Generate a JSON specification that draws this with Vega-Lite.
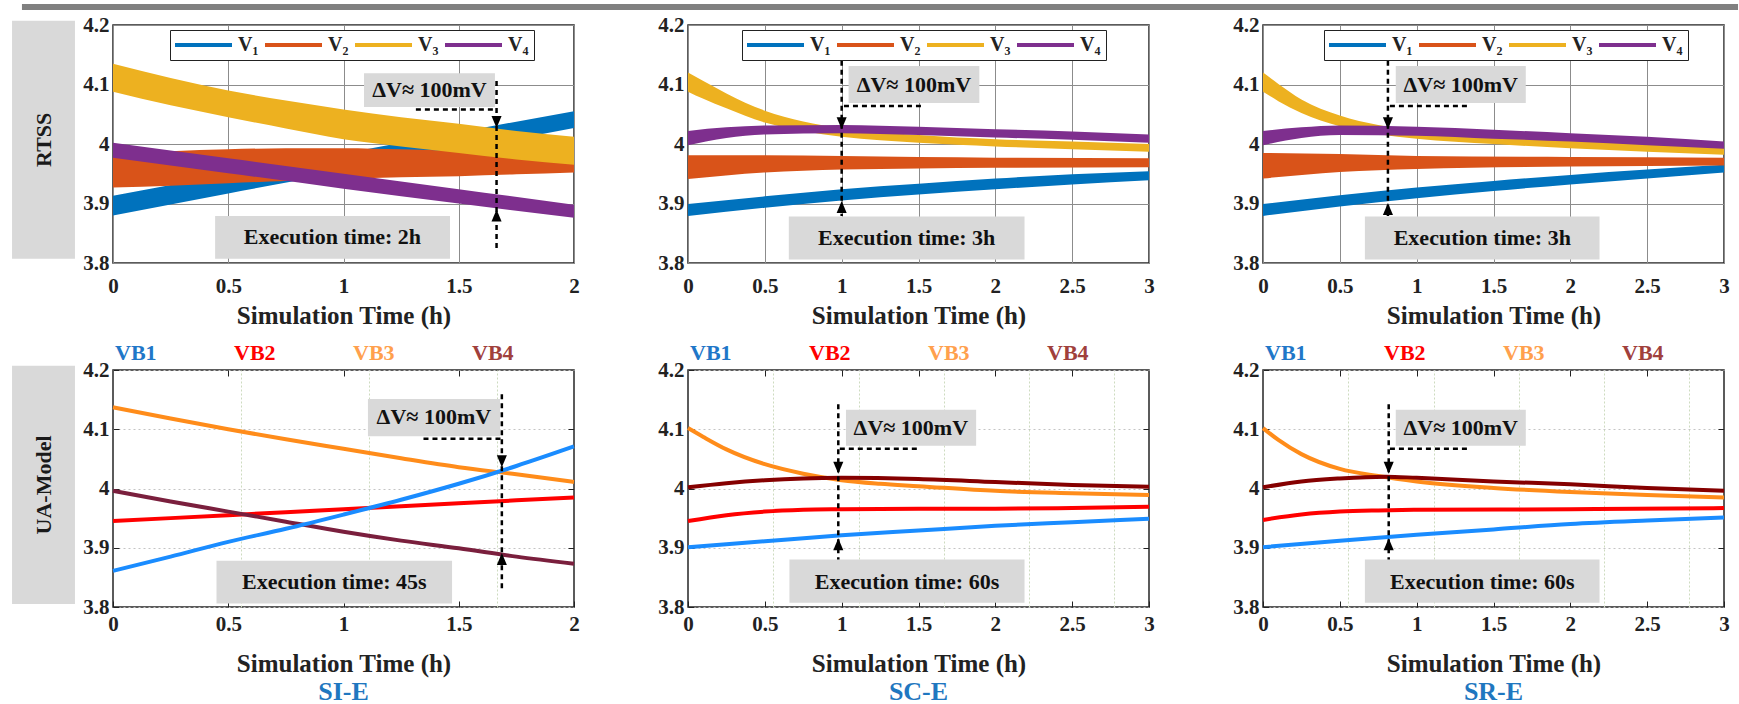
{
"$schema": "https://vega.github.io/schema/vega-lite/v6.json",
"background": "white",
"padding": {"left": 11, "top": 3, "right": 0, "bottom": 0},
"columns": 3,
"spacing": {"row": 107, "column": 114},
"bounds": "flush",
"resolve": {"scale": {"color": "independent"}, "legend": {"color": "independent"}},
"datasets": {
"b1": [
{"s":"V₁","t":0,"lo":3.880,"hi":3.913},{"s":"V₁","t":0.5,"lo":3.917,"hi":3.949},{"s":"V₁","t":1,"lo":3.953,"hi":3.984},{"s":"V₁","t":1.5,"lo":3.990,"hi":4.020},{"s":"V₁","t":2,"lo":4.027,"hi":4.055},
{"s":"V₂","t":0,"lo":3.927,"hi":3.984},{"s":"V₂","t":0.25,"lo":3.930,"hi":3.988},{"s":"V₂","t":0.5,"lo":3.934,"hi":3.991},{"s":"V₂","t":0.75,"lo":3.938,"hi":3.993},{"s":"V₂","t":1,"lo":3.941,"hi":3.993},{"s":"V₂","t":1.25,"lo":3.944,"hi":3.991},{"s":"V₂","t":1.5,"lo":3.946,"hi":3.988},{"s":"V₂","t":1.75,"lo":3.949,"hi":3.983},{"s":"V₂","t":2,"lo":3.952,"hi":3.977},
{"s":"V₃","t":0,"lo":4.088,"hi":4.135},{"s":"V₃","t":0.25,"lo":4.065,"hi":4.111},{"s":"V₃","t":0.5,"lo":4.045,"hi":4.090},{"s":"V₃","t":0.75,"lo":4.026,"hi":4.073},{"s":"V₃","t":1,"lo":4.008,"hi":4.058},{"s":"V₃","t":1.25,"lo":3.996,"hi":4.045},{"s":"V₃","t":1.5,"lo":3.985,"hi":4.034},{"s":"V₃","t":1.75,"lo":3.974,"hi":4.022},{"s":"V₃","t":2,"lo":3.965,"hi":4.012},
{"s":"V₄","t":0,"lo":3.977,"hi":4.002},{"s":"V₄","t":0.5,"lo":3.951,"hi":3.976},{"s":"V₄","t":1,"lo":3.925,"hi":3.950},{"s":"V₄","t":1.5,"lo":3.900,"hi":3.924},{"s":"V₄","t":2,"lo":3.876,"hi":3.898}
],
"b2": [
{"s":"V₁","t":0,"lo":3.879,"hi":3.899},{"s":"V₁","t":0.5,"lo":3.893,"hi":3.912},{"s":"V₁","t":1,"lo":3.905,"hi":3.924},{"s":"V₁","t":1.5,"lo":3.915,"hi":3.933},{"s":"V₁","t":2,"lo":3.924,"hi":3.942},{"s":"V₁","t":2.5,"lo":3.932,"hi":3.949},{"s":"V₁","t":3,"lo":3.939,"hi":3.954},
{"s":"V₂","t":0,"lo":3.941,"hi":3.981},{"s":"V₂","t":0.5,"lo":3.952,"hi":3.981},{"s":"V₂","t":1,"lo":3.957,"hi":3.980},{"s":"V₂","t":1.5,"lo":3.959,"hi":3.978},{"s":"V₂","t":2,"lo":3.960,"hi":3.977},{"s":"V₂","t":3,"lo":3.961,"hi":3.976},
{"s":"V₃","t":0,"lo":4.088,"hi":4.120},{"s":"V₃","t":0.1,"lo":4.076,"hi":4.106},{"s":"V₃","t":0.25,"lo":4.060,"hi":4.085},{"s":"V₃","t":0.5,"lo":4.036,"hi":4.056},{"s":"V₃","t":0.75,"lo":4.022,"hi":4.038},{"s":"V₃","t":1,"lo":4.012,"hi":4.027},{"s":"V₃","t":1.5,"lo":4.002,"hi":4.015},{"s":"V₃","t":2,"lo":3.996,"hi":4.008},{"s":"V₃","t":2.5,"lo":3.991,"hi":4.004},{"s":"V₃","t":3,"lo":3.987,"hi":4.000},
{"s":"V₄","t":0,"lo":3.998,"hi":4.022},{"s":"V₄","t":0.25,"lo":4.010,"hi":4.028},{"s":"V₄","t":0.5,"lo":4.016,"hi":4.031},{"s":"V₄","t":1,"lo":4.018,"hi":4.032},{"s":"V₄","t":1.5,"lo":4.015,"hi":4.029},{"s":"V₄","t":2,"lo":4.011,"hi":4.025},{"s":"V₄","t":2.5,"lo":4.007,"hi":4.021},{"s":"V₄","t":3,"lo":4.002,"hi":4.016}
],
"b3": [
{"s":"V₁","t":0,"lo":3.879,"hi":3.899},{"s":"V₁","t":0.5,"lo":3.895,"hi":3.914},{"s":"V₁","t":1,"lo":3.909,"hi":3.927},{"s":"V₁","t":1.5,"lo":3.921,"hi":3.938},{"s":"V₁","t":2,"lo":3.932,"hi":3.948},{"s":"V₁","t":2.5,"lo":3.942,"hi":3.957},{"s":"V₁","t":3,"lo":3.952,"hi":3.965},
{"s":"V₂","t":0,"lo":3.942,"hi":3.985},{"s":"V₂","t":0.5,"lo":3.953,"hi":3.983},{"s":"V₂","t":1,"lo":3.958,"hi":3.980},{"s":"V₂","t":2,"lo":3.962,"hi":3.978},{"s":"V₂","t":3,"lo":3.964,"hi":3.977},
{"s":"V₃","t":0,"lo":4.088,"hi":4.120},{"s":"V₃","t":0.1,"lo":4.072,"hi":4.101},{"s":"V₃","t":0.25,"lo":4.052,"hi":4.075},{"s":"V₃","t":0.5,"lo":4.030,"hi":4.048},{"s":"V₃","t":0.75,"lo":4.017,"hi":4.032},{"s":"V₃","t":1,"lo":4.009,"hi":4.023},{"s":"V₃","t":1.5,"lo":4.000,"hi":4.013},{"s":"V₃","t":2,"lo":3.993,"hi":4.006},{"s":"V₃","t":2.5,"lo":3.987,"hi":4.000},{"s":"V₃","t":3,"lo":3.982,"hi":3.994},
{"s":"V₄","t":0,"lo":3.998,"hi":4.022},{"s":"V₄","t":0.25,"lo":4.010,"hi":4.028},{"s":"V₄","t":0.5,"lo":4.015,"hi":4.031},{"s":"V₄","t":1,"lo":4.014,"hi":4.029},{"s":"V₄","t":1.5,"lo":4.009,"hi":4.024},{"s":"V₄","t":2,"lo":4.004,"hi":4.018},{"s":"V₄","t":2.5,"lo":3.998,"hi":4.012},{"s":"V₄","t":3,"lo":3.992,"hi":4.004}
],
"u1": [
{"s":"VB3","t":0,"v":4.137},{"s":"VB3","t":0.25,"v":4.118},{"s":"VB3","t":0.5,"v":4.100},{"s":"VB3","t":0.75,"v":4.083},{"s":"VB3","t":1,"v":4.067},{"s":"VB3","t":1.25,"v":4.051},{"s":"VB3","t":1.5,"v":4.036},{"s":"VB3","t":1.75,"v":4.024},{"s":"VB3","t":2,"v":4.011},
{"s":"VB2","t":0,"v":3.945},{"s":"VB2","t":0.5,"v":3.955},{"s":"VB2","t":1,"v":3.965},{"s":"VB2","t":1.5,"v":3.975},{"s":"VB2","t":2,"v":3.985},
{"s":"VB4","t":0,"v":3.996},{"s":"VB4","t":0.25,"v":3.978},{"s":"VB4","t":0.5,"v":3.961},{"s":"VB4","t":0.75,"v":3.944},{"s":"VB4","t":1,"v":3.927},{"s":"VB4","t":1.25,"v":3.912},{"s":"VB4","t":1.5,"v":3.899},{"s":"VB4","t":1.75,"v":3.885},{"s":"VB4","t":2,"v":3.873},
{"s":"VB1","t":0,"v":3.861},{"s":"VB1","t":0.25,"v":3.885},{"s":"VB1","t":0.5,"v":3.910},{"s":"VB1","t":0.75,"v":3.932},{"s":"VB1","t":1,"v":3.956},{"s":"VB1","t":1.25,"v":3.981},{"s":"VB1","t":1.5,"v":4.008},{"s":"VB1","t":1.75,"v":4.038},{"s":"VB1","t":2,"v":4.071}
],
"u2": [
{"s":"VB3","t":0,"v":4.102},{"s":"VB3","t":0.1,"v":4.087},{"s":"VB3","t":0.25,"v":4.066},{"s":"VB3","t":0.5,"v":4.041},{"s":"VB3","t":0.75,"v":4.025},{"s":"VB3","t":1,"v":4.014},{"s":"VB3","t":1.25,"v":4.008},{"s":"VB3","t":1.5,"v":4.004},{"s":"VB3","t":2,"v":3.996},{"s":"VB3","t":2.5,"v":3.992},{"s":"VB3","t":3,"v":3.989},
{"s":"VB2","t":0,"v":3.945},{"s":"VB2","t":0.25,"v":3.955},{"s":"VB2","t":0.5,"v":3.961},{"s":"VB2","t":0.75,"v":3.964},{"s":"VB2","t":1,"v":3.965},{"s":"VB2","t":1.5,"v":3.966},{"s":"VB2","t":2,"v":3.966},{"s":"VB2","t":2.5,"v":3.967},{"s":"VB2","t":3,"v":3.969},
{"s":"VB4","t":0,"v":4.002},{"s":"VB4","t":0.25,"v":4.009},{"s":"VB4","t":0.5,"v":4.014},{"s":"VB4","t":0.75,"v":4.017},{"s":"VB4","t":1,"v":4.018},{"s":"VB4","t":1.5,"v":4.016},{"s":"VB4","t":2,"v":4.011},{"s":"VB4","t":2.5,"v":4.006},{"s":"VB4","t":3,"v":4.003},
{"s":"VB1","t":0,"v":3.901},{"s":"VB1","t":0.5,"v":3.911},{"s":"VB1","t":1,"v":3.921},{"s":"VB1","t":1.5,"v":3.929},{"s":"VB1","t":2,"v":3.937},{"s":"VB1","t":2.5,"v":3.943},{"s":"VB1","t":3,"v":3.949}
],
"u3": [
{"s":"VB3","t":0,"v":4.102},{"s":"VB3","t":0.1,"v":4.082},{"s":"VB3","t":0.25,"v":4.058},{"s":"VB3","t":0.5,"v":4.033},{"s":"VB3","t":0.75,"v":4.021},{"s":"VB3","t":1,"v":4.012},{"s":"VB3","t":1.5,"v":4.001},{"s":"VB3","t":2,"v":3.994},{"s":"VB3","t":2.5,"v":3.989},{"s":"VB3","t":3,"v":3.985},
{"s":"VB2","t":0,"v":3.947},{"s":"VB2","t":0.25,"v":3.956},{"s":"VB2","t":0.5,"v":3.961},{"s":"VB2","t":0.75,"v":3.963},{"s":"VB2","t":1,"v":3.964},{"s":"VB2","t":2,"v":3.965},{"s":"VB2","t":3,"v":3.967},
{"s":"VB4","t":0,"v":4.002},{"s":"VB4","t":0.25,"v":4.012},{"s":"VB4","t":0.5,"v":4.017},{"s":"VB4","t":0.8,"v":4.020},{"s":"VB4","t":1,"v":4.018},{"s":"VB4","t":1.5,"v":4.012},{"s":"VB4","t":2,"v":4.007},{"s":"VB4","t":2.5,"v":4.001},{"s":"VB4","t":3,"v":3.996},
{"s":"VB1","t":0,"v":3.901},{"s":"VB1","t":0.5,"v":3.912},{"s":"VB1","t":1,"v":3.922},{"s":"VB1","t":1.5,"v":3.931},{"s":"VB1","t":2,"v":3.940},{"s":"VB1","t":2.5,"v":3.946},{"s":"VB1","t":3,"v":3.951}
],
"box11": [{"x1":1.089,"x2":1.657,"y1":4.062,"y2":4.119,"tx":1.373,"ty":4.0905,"txt":"ΔV≈ 100mV"},{"x1":0.443,"x2":1.462,"y1":3.807,"y2":3.879,"tx":0.952,"ty":3.843,"txt":"Execution time: 2h"}],
"arr11": [{"a":1.664,"top":4.106,"bot":3.823,"dn":4.027,"up":3.890,"h0":1.314,"hy":4.058}],
"box12": [{"x1":1.045,"x2":1.896,"y1":4.069,"y2":4.131,"tx":1.47,"ty":4.10,"txt":"ΔV≈ 100mV"},{"x1":0.656,"x2":2.19,"y1":3.806,"y2":3.878,"tx":1.423,"ty":3.842,"txt":"Execution time: 3h"}],
"arr12": [{"a":1.0,"top":4.14,"bot":3.879,"dn":4.025,"up":3.904,"h0":1.516,"hy":4.064}],
"box13": [{"x1":0.864,"x2":1.71,"y1":4.069,"y2":4.131,"tx":1.287,"ty":4.10,"txt":"ΔV≈ 100mV"},{"x1":0.663,"x2":2.19,"y1":3.806,"y2":3.878,"tx":1.427,"ty":3.842,"txt":"Execution time: 3h"}],
"arr13": [{"a":0.813,"top":4.14,"bot":3.879,"dn":4.025,"up":3.901,"h0":1.327,"hy":4.064}],
"box21": [{"x1":1.106,"x2":1.679,"y1":4.088,"y2":4.151,"tx":1.392,"ty":4.12,"txt":"ΔV≈ 100mV"},{"x1":0.449,"x2":1.471,"y1":3.806,"y2":3.878,"tx":0.96,"ty":3.842,"txt":"Execution time: 45s"}],
"arr21": [{"a":1.687,"top":4.159,"bot":3.827,"dn":4.036,"up":3.891,"h0":1.347,"hy":4.084}],
"box22": [{"x1":1.028,"x2":1.875,"y1":4.072,"y2":4.133,"tx":1.45,"ty":4.1025,"txt":"ΔV≈ 100mV"},{"x1":0.66,"x2":2.19,"y1":3.807,"y2":3.88,"tx":1.425,"ty":3.843,"txt":"Execution time: 60s"}],
"arr22": [{"a":0.978,"top":4.142,"bot":3.88,"dn":4.025,"up":3.916,"h0":1.489,"hy":4.067}],
"box23": [{"x1":0.864,"x2":1.71,"y1":4.072,"y2":4.133,"tx":1.287,"ty":4.1025,"txt":"ΔV≈ 100mV"},{"x1":0.663,"x2":2.19,"y1":3.807,"y2":3.88,"tx":1.427,"ty":3.843,"txt":"Execution time: 60s"}],
"arr23": [{"a":0.818,"top":4.142,"bot":3.88,"dn":4.025,"up":3.916,"h0":1.327,"hy":4.067}]
},
"concat": [
{
"width": 461, "height": 238,
"resolve": {"axis": {"x": "independent", "y": "independent"}},
"layer": [
{"data": {"values": [{"lab": "RTSS"}]}, "mark": {"type": "rect", "color": "#d9d9d9"},
 "encoding": {"x": {"datum": -0.438, "type": "quantitative", "scale": {"domain": [0, 2], "nice": false, "zero": false}, "axis": null}, "x2": {"datum": -0.165}, "y": {"datum": 4.207, "type": "quantitative", "scale": {"domain": [3.8, 4.2], "nice": false, "zero": false}, "axis": null}, "y2": {"datum": 3.807}}},
{"data": {"values": [{"lab": "RTSS"}]}, "mark": {"type": "text", "angle": 270, "fontSize": 22, "fontWeight": "bold", "color": "#1a1a1a", "baseline": "middle", "align": "center"},
 "encoding": {"x": {"datum": -0.3015, "type": "quantitative", "scale": {"domain": [0, 2], "nice": false, "zero": false}, "axis": null}, "y": {"datum": 4.007, "type": "quantitative", "scale": {"domain": [3.8, 4.2], "nice": false, "zero": false}, "axis": null}, "text": {"field": "lab"}}},
{"data": {"values": [{"lab": "bar"}]}, "mark": {"type": "rule", "strokeWidth": 6, "color": "#808080"},
 "encoding": {"x": {"datum": -0.395, "type": "quantitative", "scale": {"domain": [0, 2], "nice": false, "zero": false}, "axis": null}, "x2": {"datum": 7.05}, "y": {"datum": 4.2303, "type": "quantitative", "scale": {"domain": [3.8, 4.2], "nice": false, "zero": false}, "axis": null}}},
{"data": {"name": "b1"}, "mark": {"type": "area", "interpolate": "monotone"},
 "encoding": {
  "x": {"field": "t", "type": "quantitative", "scale": {"domain": [0, 2], "nice": false, "zero": false}, "axis": {"values": [0, 0.5, 1, 1.5, 2], "format": "~g", "grid": true, "gridColor": "#8c8c8c", "domain": false, "ticks": false, "labelPadding": 12, "labelFlush": false, "labelOverlap": false, "title": "Simulation Time (h)", "titlePadding": 7}},
  "y": {"field": "lo", "type": "quantitative", "scale": {"domain": [3.8, 4.2], "nice": false, "zero": false}, "axis": {"values": [3.8, 3.9, 4, 4.1, 4.2], "format": "~g", "grid": true, "gridColor": "#8c8c8c", "domain": false, "ticks": false, "labelPadding": 4, "labelFlush": false, "labelOverlap": false, "title": null}},
  "y2": {"field": "hi"},
  "color": {"field": "s", "type": "nominal", "scale": {"domain": ["V₁", "V₂", "V₃", "V₄"], "range": ["#0072BD", "#D95319", "#EDB120", "#7E2F8E"]},
   "legend": {"orient": "none", "legendX": 57, "legendY": 5, "direction": "horizontal", "columns": 4, "title": null, "symbolType": "M-1,-0.2L4.7,-0.2L4.7,0.2L-1,0.2Z", "symbolSize": 400, "symbolStrokeWidth": 0, "symbolOpacity": 1, "labelOffset": 43, "columnPadding": 6, "labelFontSize": 20, "labelFontWeight": "bold", "labelColor": "#222", "strokeColor": "#222", "fillColor": "#ffffff", "padding": 5}}
 }},
{"data": {"name": "box11"}, "mark": {"type": "rect", "color": "#d9d9d9"},
 "encoding": {"x": {"field": "x1", "type": "quantitative", "scale": {"domain": [0, 2], "nice": false, "zero": false}, "axis": null}, "x2": {"field": "x2"}, "y": {"field": "y1", "type": "quantitative", "scale": {"domain": [3.8, 4.2], "nice": false, "zero": false}, "axis": null}, "y2": {"field": "y2"}}},
{"data": {"name": "box11"}, "mark": {"type": "text", "fontSize": 22, "fontWeight": "bold", "color": "#111", "align": "center", "baseline": "middle"},
 "encoding": {"x": {"field": "tx", "type": "quantitative", "scale": {"domain": [0, 2], "nice": false, "zero": false}, "axis": null}, "y": {"field": "ty", "type": "quantitative", "scale": {"domain": [3.8, 4.2], "nice": false, "zero": false}, "axis": null}, "text": {"field": "txt"}}},
{"data": {"name": "arr11"}, "mark": {"type": "rule", "strokeDash": [5, 4], "strokeWidth": 2.5, "color": "#000"},
 "encoding": {"x": {"field": "a", "type": "quantitative", "scale": {"domain": [0, 2], "nice": false, "zero": false}, "axis": null}, "y": {"field": "top", "type": "quantitative", "scale": {"domain": [3.8, 4.2], "nice": false, "zero": false}, "axis": null}, "y2": {"field": "bot"}}},
{"data": {"name": "arr11"}, "mark": {"type": "rule", "strokeDash": [5, 4], "strokeWidth": 2.5, "color": "#000"},
 "encoding": {"x": {"field": "h0", "type": "quantitative", "scale": {"domain": [0, 2], "nice": false, "zero": false}, "axis": null}, "x2": {"field": "a"}, "y": {"field": "hy", "type": "quantitative", "scale": {"domain": [3.8, 4.2], "nice": false, "zero": false}, "axis": null}}},
{"data": {"name": "arr11"}, "mark": {"type": "point", "shape": "M-0.42,-1L0.42,-1L0,0Z", "filled": true, "size": 576, "color": "#000", "opacity": 1},
 "encoding": {"x": {"field": "a", "type": "quantitative", "scale": {"domain": [0, 2], "nice": false, "zero": false}, "axis": null}, "y": {"field": "dn", "type": "quantitative", "scale": {"domain": [3.8, 4.2], "nice": false, "zero": false}, "axis": null}}},
{"data": {"name": "arr11"}, "mark": {"type": "point", "shape": "M-0.42,1L0.42,1L0,0Z", "filled": true, "size": 576, "color": "#000", "opacity": 1},
 "encoding": {"x": {"field": "a", "type": "quantitative", "scale": {"domain": [0, 2], "nice": false, "zero": false}, "axis": null}, "y": {"field": "up", "type": "quantitative", "scale": {"domain": [3.8, 4.2], "nice": false, "zero": false}, "axis": null}}}
]
},
{
"width": 461, "height": 238,
"resolve": {"axis": {"x": "independent", "y": "independent"}},
"layer": [
{"data": {"name": "b2"}, "mark": {"type": "area", "interpolate": "monotone"},
 "encoding": {
  "x": {"field": "t", "type": "quantitative", "scale": {"domain": [0, 3], "nice": false, "zero": false}, "axis": {"values": [0, 0.5, 1, 1.5, 2, 2.5, 3], "format": "~g", "grid": true, "gridColor": "#8c8c8c", "domain": false, "ticks": false, "labelPadding": 12, "labelFlush": false, "labelOverlap": false, "title": "Simulation Time (h)", "titlePadding": 7}},
  "y": {"field": "lo", "type": "quantitative", "scale": {"domain": [3.8, 4.2], "nice": false, "zero": false}, "axis": {"values": [3.8, 3.9, 4, 4.1, 4.2], "format": "~g", "grid": true, "gridColor": "#8c8c8c", "domain": false, "ticks": false, "labelPadding": 4, "labelFlush": false, "labelOverlap": false, "title": null}},
  "y2": {"field": "hi"},
  "color": {"field": "s", "type": "nominal", "scale": {"domain": ["V₁", "V₂", "V₃", "V₄"], "range": ["#0072BD", "#D95319", "#EDB120", "#7E2F8E"]},
   "legend": {"orient": "none", "legendX": 54, "legendY": 5, "direction": "horizontal", "columns": 4, "title": null, "symbolType": "M-1,-0.2L4.7,-0.2L4.7,0.2L-1,0.2Z", "symbolSize": 400, "symbolStrokeWidth": 0, "symbolOpacity": 1, "labelOffset": 43, "columnPadding": 6, "labelFontSize": 20, "labelFontWeight": "bold", "labelColor": "#222", "strokeColor": "#222", "fillColor": "#ffffff", "padding": 5}}
 }},
{"data": {"name": "box12"}, "mark": {"type": "rect", "color": "#d9d9d9"},
 "encoding": {"x": {"field": "x1", "type": "quantitative", "scale": {"domain": [0, 3], "nice": false, "zero": false}, "axis": null}, "x2": {"field": "x2"}, "y": {"field": "y1", "type": "quantitative", "scale": {"domain": [3.8, 4.2], "nice": false, "zero": false}, "axis": null}, "y2": {"field": "y2"}}},
{"data": {"name": "box12"}, "mark": {"type": "text", "fontSize": 22, "fontWeight": "bold", "color": "#111", "align": "center", "baseline": "middle"},
 "encoding": {"x": {"field": "tx", "type": "quantitative", "scale": {"domain": [0, 3], "nice": false, "zero": false}, "axis": null}, "y": {"field": "ty", "type": "quantitative", "scale": {"domain": [3.8, 4.2], "nice": false, "zero": false}, "axis": null}, "text": {"field": "txt"}}},
{"data": {"name": "arr12"}, "mark": {"type": "rule", "strokeDash": [5, 4], "strokeWidth": 2.5, "color": "#000"},
 "encoding": {"x": {"field": "a", "type": "quantitative", "scale": {"domain": [0, 3], "nice": false, "zero": false}, "axis": null}, "y": {"field": "top", "type": "quantitative", "scale": {"domain": [3.8, 4.2], "nice": false, "zero": false}, "axis": null}, "y2": {"field": "bot"}}},
{"data": {"name": "arr12"}, "mark": {"type": "rule", "strokeDash": [5, 4], "strokeWidth": 2.5, "color": "#000"},
 "encoding": {"x": {"field": "h0", "type": "quantitative", "scale": {"domain": [0, 3], "nice": false, "zero": false}, "axis": null}, "x2": {"field": "a"}, "y": {"field": "hy", "type": "quantitative", "scale": {"domain": [3.8, 4.2], "nice": false, "zero": false}, "axis": null}}},
{"data": {"name": "arr12"}, "mark": {"type": "point", "shape": "M-0.42,-1L0.42,-1L0,0Z", "filled": true, "size": 576, "color": "#000", "opacity": 1},
 "encoding": {"x": {"field": "a", "type": "quantitative", "scale": {"domain": [0, 3], "nice": false, "zero": false}, "axis": null}, "y": {"field": "dn", "type": "quantitative", "scale": {"domain": [3.8, 4.2], "nice": false, "zero": false}, "axis": null}}},
{"data": {"name": "arr12"}, "mark": {"type": "point", "shape": "M-0.42,1L0.42,1L0,0Z", "filled": true, "size": 576, "color": "#000", "opacity": 1},
 "encoding": {"x": {"field": "a", "type": "quantitative", "scale": {"domain": [0, 3], "nice": false, "zero": false}, "axis": null}, "y": {"field": "up", "type": "quantitative", "scale": {"domain": [3.8, 4.2], "nice": false, "zero": false}, "axis": null}}}
]
},
{
"width": 461, "height": 238,
"resolve": {"axis": {"x": "independent", "y": "independent"}},
"layer": [
{"data": {"name": "b3"}, "mark": {"type": "area", "interpolate": "monotone"},
 "encoding": {
  "x": {"field": "t", "type": "quantitative", "scale": {"domain": [0, 3], "nice": false, "zero": false}, "axis": {"values": [0, 0.5, 1, 1.5, 2, 2.5, 3], "format": "~g", "grid": true, "gridColor": "#8c8c8c", "domain": false, "ticks": false, "labelPadding": 12, "labelFlush": false, "labelOverlap": false, "title": "Simulation Time (h)", "titlePadding": 7}},
  "y": {"field": "lo", "type": "quantitative", "scale": {"domain": [3.8, 4.2], "nice": false, "zero": false}, "axis": {"values": [3.8, 3.9, 4, 4.1, 4.2], "format": "~g", "grid": true, "gridColor": "#8c8c8c", "domain": false, "ticks": false, "labelPadding": 4, "labelFlush": false, "labelOverlap": false, "title": null}},
  "y2": {"field": "hi"},
  "color": {"field": "s", "type": "nominal", "scale": {"domain": ["V₁", "V₂", "V₃", "V₄"], "range": ["#0072BD", "#D95319", "#EDB120", "#7E2F8E"]},
   "legend": {"orient": "none", "legendX": 61, "legendY": 5, "direction": "horizontal", "columns": 4, "title": null, "symbolType": "M-1,-0.2L4.7,-0.2L4.7,0.2L-1,0.2Z", "symbolSize": 400, "symbolStrokeWidth": 0, "symbolOpacity": 1, "labelOffset": 43, "columnPadding": 6, "labelFontSize": 20, "labelFontWeight": "bold", "labelColor": "#222", "strokeColor": "#222", "fillColor": "#ffffff", "padding": 5}}
 }},
{"data": {"name": "box13"}, "mark": {"type": "rect", "color": "#d9d9d9"},
 "encoding": {"x": {"field": "x1", "type": "quantitative", "scale": {"domain": [0, 3], "nice": false, "zero": false}, "axis": null}, "x2": {"field": "x2"}, "y": {"field": "y1", "type": "quantitative", "scale": {"domain": [3.8, 4.2], "nice": false, "zero": false}, "axis": null}, "y2": {"field": "y2"}}},
{"data": {"name": "box13"}, "mark": {"type": "text", "fontSize": 22, "fontWeight": "bold", "color": "#111", "align": "center", "baseline": "middle"},
 "encoding": {"x": {"field": "tx", "type": "quantitative", "scale": {"domain": [0, 3], "nice": false, "zero": false}, "axis": null}, "y": {"field": "ty", "type": "quantitative", "scale": {"domain": [3.8, 4.2], "nice": false, "zero": false}, "axis": null}, "text": {"field": "txt"}}},
{"data": {"name": "arr13"}, "mark": {"type": "rule", "strokeDash": [5, 4], "strokeWidth": 2.5, "color": "#000"},
 "encoding": {"x": {"field": "a", "type": "quantitative", "scale": {"domain": [0, 3], "nice": false, "zero": false}, "axis": null}, "y": {"field": "top", "type": "quantitative", "scale": {"domain": [3.8, 4.2], "nice": false, "zero": false}, "axis": null}, "y2": {"field": "bot"}}},
{"data": {"name": "arr13"}, "mark": {"type": "rule", "strokeDash": [5, 4], "strokeWidth": 2.5, "color": "#000"},
 "encoding": {"x": {"field": "h0", "type": "quantitative", "scale": {"domain": [0, 3], "nice": false, "zero": false}, "axis": null}, "x2": {"field": "a"}, "y": {"field": "hy", "type": "quantitative", "scale": {"domain": [3.8, 4.2], "nice": false, "zero": false}, "axis": null}}},
{"data": {"name": "arr13"}, "mark": {"type": "point", "shape": "M-0.42,-1L0.42,-1L0,0Z", "filled": true, "size": 576, "color": "#000", "opacity": 1},
 "encoding": {"x": {"field": "a", "type": "quantitative", "scale": {"domain": [0, 3], "nice": false, "zero": false}, "axis": null}, "y": {"field": "dn", "type": "quantitative", "scale": {"domain": [3.8, 4.2], "nice": false, "zero": false}, "axis": null}}},
{"data": {"name": "arr13"}, "mark": {"type": "point", "shape": "M-0.42,1L0.42,1L0,0Z", "filled": true, "size": 576, "color": "#000", "opacity": 1},
 "encoding": {"x": {"field": "a", "type": "quantitative", "scale": {"domain": [0, 3], "nice": false, "zero": false}, "axis": null}, "y": {"field": "up", "type": "quantitative", "scale": {"domain": [3.8, 4.2], "nice": false, "zero": false}, "axis": null}}}
]
},
{
"width": 461, "height": 237,
"title": {"text": "SI-E", "orient": "bottom", "fontSize": 26, "fontWeight": "bold", "color": "#1f77c0", "offset": 3, "anchor": "middle"},
"resolve": {"axis": {"x": "independent", "y": "independent"}},
"layer": [
{"data": {"values": [{"lab": "UA-Model"}]}, "mark": {"type": "rect", "color": "#d9d9d9"},
 "encoding": {"x": {"datum": -0.438, "type": "quantitative", "scale": {"domain": [0, 2], "nice": false, "zero": false}, "axis": null}, "x2": {"datum": -0.165}, "y": {"datum": 4.207, "type": "quantitative", "scale": {"domain": [3.8, 4.2], "nice": false, "zero": false}, "axis": null}, "y2": {"datum": 3.805}}},
{"data": {"values": [{"lab": "UA-Model"}]}, "mark": {"type": "text", "angle": 270, "fontSize": 22, "fontWeight": "bold", "color": "#1a1a1a", "baseline": "middle", "align": "center"},
 "encoding": {"x": {"datum": -0.3015, "type": "quantitative", "scale": {"domain": [0, 2], "nice": false, "zero": false}, "axis": null}, "y": {"datum": 4.006, "type": "quantitative", "scale": {"domain": [3.8, 4.2], "nice": false, "zero": false}, "axis": null}, "text": {"field": "lab"}}},
{"data": {"name": "box21"}, "mark": {"type": "rect", "color": "#d9d9d9"},
 "encoding": {"x": {"field": "x1", "type": "quantitative", "scale": {"domain": [0, 2], "nice": false, "zero": false}, "axis": {"orient": "top", "values": [0.555, 1.11, 1.665], "grid": true, "gridDash": [2, 2], "gridColor": "#cddbbf", "labels": false, "ticks": false, "domain": false, "title": null}}, "x2": {"field": "x2"}, "y": {"field": "y1", "type": "quantitative", "scale": {"domain": [3.8, 4.2], "nice": false, "zero": false}, "axis": null}, "y2": {"field": "y2"}}},
{"data": {"name": "u1"}, "mark": {"type": "line", "strokeWidth": 4, "interpolate": "monotone"},
 "encoding": {
  "x": {"field": "t", "type": "quantitative", "scale": {"domain": [0, 2], "nice": false, "zero": false}, "axis": {"values": [0, 0.5, 1, 1.5, 2], "format": "~g", "grid": false, "domain": false, "ticks": true, "tickSize": -6, "tickColor": "#222", "labelPadding": 12, "labelFlush": false, "labelOverlap": false, "title": "Simulation Time (h)", "titlePadding": 17}},
  "y": {"field": "v", "type": "quantitative", "scale": {"domain": [3.8, 4.2], "nice": false, "zero": false}, "axis": {"values": [3.8, 3.9, 4, 4.1, 4.2], "format": "~g", "grid": true, "gridDash": [2, 3], "gridColor": "#c4c4c4", "domain": false, "ticks": true, "tickSize": -6, "tickColor": "#222", "labelPadding": 10, "labelFlush": false, "labelOverlap": false, "title": null}},
  "color": {"field": "s", "type": "nominal", "scale": {"domain": ["VB1", "VB2", "VB3", "VB4"], "range": ["#1a8cff", "#ff0000", "#ff8c1a", "#7a1f3d"]},
   "legend": {"orient": "none", "legendX": -20, "legendY": -28, "direction": "horizontal", "columns": 4, "title": null, "symbolSize": 0, "symbolOpacity": 0, "symbolStrokeWidth": 0, "labelOffset": 0, "gridAlign": "all", "columnPadding": 55, "labelFontSize": 22, "labelFontWeight": "bold", "padding": 0, "labelColor": {"expr": "datum.value === 'VB1' ? '#1f77c8' : datum.value === 'VB2' ? '#ff0000' : datum.value === 'VB3' ? '#ffa04d' : '#a0403c'"}}}
 }},
{"data": {"name": "box21"}, "mark": {"type": "text", "fontSize": 22, "fontWeight": "bold", "color": "#111", "align": "center", "baseline": "middle"},
 "encoding": {"x": {"field": "tx", "type": "quantitative", "scale": {"domain": [0, 2], "nice": false, "zero": false}, "axis": {"orient": "top", "values": [0.5, 1, 1.5], "grid": false, "labels": false, "ticks": true, "tickSize": -6, "tickColor": "#222", "domain": false, "title": null}}, "y": {"field": "ty", "type": "quantitative", "scale": {"domain": [3.8, 4.2], "nice": false, "zero": false}, "axis": {"orient": "right", "values": [3.9, 4, 4.1], "grid": false, "labels": false, "ticks": true, "tickSize": -6, "tickColor": "#222", "domain": false, "title": null}}, "text": {"field": "txt"}}},
{"data": {"name": "arr21"}, "mark": {"type": "rule", "strokeDash": [5, 4], "strokeWidth": 2.5, "color": "#000"},
 "encoding": {"x": {"field": "a", "type": "quantitative", "scale": {"domain": [0, 2], "nice": false, "zero": false}, "axis": null}, "y": {"field": "top", "type": "quantitative", "scale": {"domain": [3.8, 4.2], "nice": false, "zero": false}, "axis": null}, "y2": {"field": "bot"}}},
{"data": {"name": "arr21"}, "mark": {"type": "rule", "strokeDash": [5, 4], "strokeWidth": 2.5, "color": "#000"},
 "encoding": {"x": {"field": "h0", "type": "quantitative", "scale": {"domain": [0, 2], "nice": false, "zero": false}, "axis": null}, "x2": {"field": "a"}, "y": {"field": "hy", "type": "quantitative", "scale": {"domain": [3.8, 4.2], "nice": false, "zero": false}, "axis": null}}},
{"data": {"name": "arr21"}, "mark": {"type": "point", "shape": "M-0.42,-1L0.42,-1L0,0Z", "filled": true, "size": 576, "color": "#000", "opacity": 1},
 "encoding": {"x": {"field": "a", "type": "quantitative", "scale": {"domain": [0, 2], "nice": false, "zero": false}, "axis": null}, "y": {"field": "dn", "type": "quantitative", "scale": {"domain": [3.8, 4.2], "nice": false, "zero": false}, "axis": null}}},
{"data": {"name": "arr21"}, "mark": {"type": "point", "shape": "M-0.42,1L0.42,1L0,0Z", "filled": true, "size": 576, "color": "#000", "opacity": 1},
 "encoding": {"x": {"field": "a", "type": "quantitative", "scale": {"domain": [0, 2], "nice": false, "zero": false}, "axis": null}, "y": {"field": "up", "type": "quantitative", "scale": {"domain": [3.8, 4.2], "nice": false, "zero": false}, "axis": null}}}
]
},
{
"width": 461, "height": 237,
"title": {"text": "SC-E", "orient": "bottom", "fontSize": 26, "fontWeight": "bold", "color": "#1f77c0", "offset": 3, "anchor": "middle"},
"resolve": {"axis": {"x": "independent", "y": "independent"}},
"layer": [
{"data": {"name": "box22"}, "mark": {"type": "rect", "color": "#d9d9d9"},
 "encoding": {"x": {"field": "x1", "type": "quantitative", "scale": {"domain": [0, 3], "nice": false, "zero": false}, "axis": {"orient": "top", "values": [0.555, 1.11, 1.665, 2.22, 2.775], "grid": true, "gridDash": [2, 2], "gridColor": "#cddbbf", "labels": false, "ticks": false, "domain": false, "title": null}}, "x2": {"field": "x2"}, "y": {"field": "y1", "type": "quantitative", "scale": {"domain": [3.8, 4.2], "nice": false, "zero": false}, "axis": null}, "y2": {"field": "y2"}}},
{"data": {"name": "u2"}, "mark": {"type": "line", "strokeWidth": 4, "interpolate": "monotone"},
 "encoding": {
  "x": {"field": "t", "type": "quantitative", "scale": {"domain": [0, 3], "nice": false, "zero": false}, "axis": {"values": [0, 0.5, 1, 1.5, 2, 2.5, 3], "format": "~g", "grid": false, "domain": false, "ticks": true, "tickSize": -6, "tickColor": "#222", "labelPadding": 12, "labelFlush": false, "labelOverlap": false, "title": "Simulation Time (h)", "titlePadding": 17}},
  "y": {"field": "v", "type": "quantitative", "scale": {"domain": [3.8, 4.2], "nice": false, "zero": false}, "axis": {"values": [3.8, 3.9, 4, 4.1, 4.2], "format": "~g", "grid": true, "gridDash": [2, 3], "gridColor": "#c4c4c4", "domain": false, "ticks": true, "tickSize": -6, "tickColor": "#222", "labelPadding": 10, "labelFlush": false, "labelOverlap": false, "title": null}},
  "color": {"field": "s", "type": "nominal", "scale": {"domain": ["VB1", "VB2", "VB3", "VB4"], "range": ["#1a8cff", "#ff0000", "#ff8c1a", "#850000"]},
   "legend": {"orient": "none", "legendX": -20, "legendY": -28, "direction": "horizontal", "columns": 4, "title": null, "symbolSize": 0, "symbolOpacity": 0, "symbolStrokeWidth": 0, "labelOffset": 0, "gridAlign": "all", "columnPadding": 55, "labelFontSize": 22, "labelFontWeight": "bold", "padding": 0, "labelColor": {"expr": "datum.value === 'VB1' ? '#1f77c8' : datum.value === 'VB2' ? '#ff0000' : datum.value === 'VB3' ? '#ffa04d' : '#a0403c'"}}}
 }},
{"data": {"name": "box22"}, "mark": {"type": "text", "fontSize": 22, "fontWeight": "bold", "color": "#111", "align": "center", "baseline": "middle"},
 "encoding": {"x": {"field": "tx", "type": "quantitative", "scale": {"domain": [0, 3], "nice": false, "zero": false}, "axis": {"orient": "top", "values": [0.5, 1, 1.5, 2, 2.5], "grid": false, "labels": false, "ticks": true, "tickSize": -6, "tickColor": "#222", "domain": false, "title": null}}, "y": {"field": "ty", "type": "quantitative", "scale": {"domain": [3.8, 4.2], "nice": false, "zero": false}, "axis": {"orient": "right", "values": [3.9, 4, 4.1], "grid": false, "labels": false, "ticks": true, "tickSize": -6, "tickColor": "#222", "domain": false, "title": null}}, "text": {"field": "txt"}}},
{"data": {"name": "arr22"}, "mark": {"type": "rule", "strokeDash": [5, 4], "strokeWidth": 2.5, "color": "#000"},
 "encoding": {"x": {"field": "a", "type": "quantitative", "scale": {"domain": [0, 3], "nice": false, "zero": false}, "axis": null}, "y": {"field": "top", "type": "quantitative", "scale": {"domain": [3.8, 4.2], "nice": false, "zero": false}, "axis": null}, "y2": {"field": "bot"}}},
{"data": {"name": "arr22"}, "mark": {"type": "rule", "strokeDash": [5, 4], "strokeWidth": 2.5, "color": "#000"},
 "encoding": {"x": {"field": "h0", "type": "quantitative", "scale": {"domain": [0, 3], "nice": false, "zero": false}, "axis": null}, "x2": {"field": "a"}, "y": {"field": "hy", "type": "quantitative", "scale": {"domain": [3.8, 4.2], "nice": false, "zero": false}, "axis": null}}},
{"data": {"name": "arr22"}, "mark": {"type": "point", "shape": "M-0.42,-1L0.42,-1L0,0Z", "filled": true, "size": 576, "color": "#000", "opacity": 1},
 "encoding": {"x": {"field": "a", "type": "quantitative", "scale": {"domain": [0, 3], "nice": false, "zero": false}, "axis": null}, "y": {"field": "dn", "type": "quantitative", "scale": {"domain": [3.8, 4.2], "nice": false, "zero": false}, "axis": null}}},
{"data": {"name": "arr22"}, "mark": {"type": "point", "shape": "M-0.42,1L0.42,1L0,0Z", "filled": true, "size": 576, "color": "#000", "opacity": 1},
 "encoding": {"x": {"field": "a", "type": "quantitative", "scale": {"domain": [0, 3], "nice": false, "zero": false}, "axis": null}, "y": {"field": "up", "type": "quantitative", "scale": {"domain": [3.8, 4.2], "nice": false, "zero": false}, "axis": null}}}
]
},
{
"width": 461, "height": 237,
"title": {"text": "SR-E", "orient": "bottom", "fontSize": 26, "fontWeight": "bold", "color": "#1f77c0", "offset": 3, "anchor": "middle"},
"resolve": {"axis": {"x": "independent", "y": "independent"}},
"layer": [
{"data": {"name": "box23"}, "mark": {"type": "rect", "color": "#d9d9d9"},
 "encoding": {"x": {"field": "x1", "type": "quantitative", "scale": {"domain": [0, 3], "nice": false, "zero": false}, "axis": {"orient": "top", "values": [0.555, 1.11, 1.665, 2.22, 2.775], "grid": true, "gridDash": [2, 2], "gridColor": "#cddbbf", "labels": false, "ticks": false, "domain": false, "title": null}}, "x2": {"field": "x2"}, "y": {"field": "y1", "type": "quantitative", "scale": {"domain": [3.8, 4.2], "nice": false, "zero": false}, "axis": null}, "y2": {"field": "y2"}}},
{"data": {"name": "u3"}, "mark": {"type": "line", "strokeWidth": 4, "interpolate": "monotone"},
 "encoding": {
  "x": {"field": "t", "type": "quantitative", "scale": {"domain": [0, 3], "nice": false, "zero": false}, "axis": {"values": [0, 0.5, 1, 1.5, 2, 2.5, 3], "format": "~g", "grid": false, "domain": false, "ticks": true, "tickSize": -6, "tickColor": "#222", "labelPadding": 12, "labelFlush": false, "labelOverlap": false, "title": "Simulation Time (h)", "titlePadding": 17}},
  "y": {"field": "v", "type": "quantitative", "scale": {"domain": [3.8, 4.2], "nice": false, "zero": false}, "axis": {"values": [3.8, 3.9, 4, 4.1, 4.2], "format": "~g", "grid": true, "gridDash": [2, 3], "gridColor": "#c4c4c4", "domain": false, "ticks": true, "tickSize": -6, "tickColor": "#222", "labelPadding": 10, "labelFlush": false, "labelOverlap": false, "title": null}},
  "color": {"field": "s", "type": "nominal", "scale": {"domain": ["VB1", "VB2", "VB3", "VB4"], "range": ["#1a8cff", "#ff0000", "#ff8c1a", "#850000"]},
   "legend": {"orient": "none", "legendX": -20, "legendY": -28, "direction": "horizontal", "columns": 4, "title": null, "symbolSize": 0, "symbolOpacity": 0, "symbolStrokeWidth": 0, "labelOffset": 0, "gridAlign": "all", "columnPadding": 55, "labelFontSize": 22, "labelFontWeight": "bold", "padding": 0, "labelColor": {"expr": "datum.value === 'VB1' ? '#1f77c8' : datum.value === 'VB2' ? '#ff0000' : datum.value === 'VB3' ? '#ffa04d' : '#a0403c'"}}}
 }},
{"data": {"name": "box23"}, "mark": {"type": "text", "fontSize": 22, "fontWeight": "bold", "color": "#111", "align": "center", "baseline": "middle"},
 "encoding": {"x": {"field": "tx", "type": "quantitative", "scale": {"domain": [0, 3], "nice": false, "zero": false}, "axis": {"orient": "top", "values": [0.5, 1, 1.5, 2, 2.5], "grid": false, "labels": false, "ticks": true, "tickSize": -6, "tickColor": "#222", "domain": false, "title": null}}, "y": {"field": "ty", "type": "quantitative", "scale": {"domain": [3.8, 4.2], "nice": false, "zero": false}, "axis": {"orient": "right", "values": [3.9, 4, 4.1], "grid": false, "labels": false, "ticks": true, "tickSize": -6, "tickColor": "#222", "domain": false, "title": null}}, "text": {"field": "txt"}}},
{"data": {"name": "arr23"}, "mark": {"type": "rule", "strokeDash": [5, 4], "strokeWidth": 2.5, "color": "#000"},
 "encoding": {"x": {"field": "a", "type": "quantitative", "scale": {"domain": [0, 3], "nice": false, "zero": false}, "axis": null}, "y": {"field": "top", "type": "quantitative", "scale": {"domain": [3.8, 4.2], "nice": false, "zero": false}, "axis": null}, "y2": {"field": "bot"}}},
{"data": {"name": "arr23"}, "mark": {"type": "rule", "strokeDash": [5, 4], "strokeWidth": 2.5, "color": "#000"},
 "encoding": {"x": {"field": "h0", "type": "quantitative", "scale": {"domain": [0, 3], "nice": false, "zero": false}, "axis": null}, "x2": {"field": "a"}, "y": {"field": "hy", "type": "quantitative", "scale": {"domain": [3.8, 4.2], "nice": false, "zero": false}, "axis": null}}},
{"data": {"name": "arr23"}, "mark": {"type": "point", "shape": "M-0.42,-1L0.42,-1L0,0Z", "filled": true, "size": 576, "color": "#000", "opacity": 1},
 "encoding": {"x": {"field": "a", "type": "quantitative", "scale": {"domain": [0, 3], "nice": false, "zero": false}, "axis": null}, "y": {"field": "dn", "type": "quantitative", "scale": {"domain": [3.8, 4.2], "nice": false, "zero": false}, "axis": null}}},
{"data": {"name": "arr23"}, "mark": {"type": "point", "shape": "M-0.42,1L0.42,1L0,0Z", "filled": true, "size": 576, "color": "#000", "opacity": 1},
 "encoding": {"x": {"field": "a", "type": "quantitative", "scale": {"domain": [0, 3], "nice": false, "zero": false}, "axis": null}, "y": {"field": "up", "type": "quantitative", "scale": {"domain": [3.8, 4.2], "nice": false, "zero": false}, "axis": null}}}
]
}
],
"config": {
 "font": "Liberation Serif",
 "view": {"stroke": "#262626", "strokeWidth": 1.5},
 "axis": {"labelFont": "Liberation Serif", "labelFontSize": 21, "labelFontWeight": "bold", "labelColor": "#222", "titleFont": "Liberation Serif", "titleFontSize": 25, "titleFontWeight": "bold", "titleColor": "#222"},
 "legend": {"labelFont": "Liberation Serif"},
 "text": {"font": "Liberation Serif"},
 "title": {"font": "Liberation Serif"}
}
}
